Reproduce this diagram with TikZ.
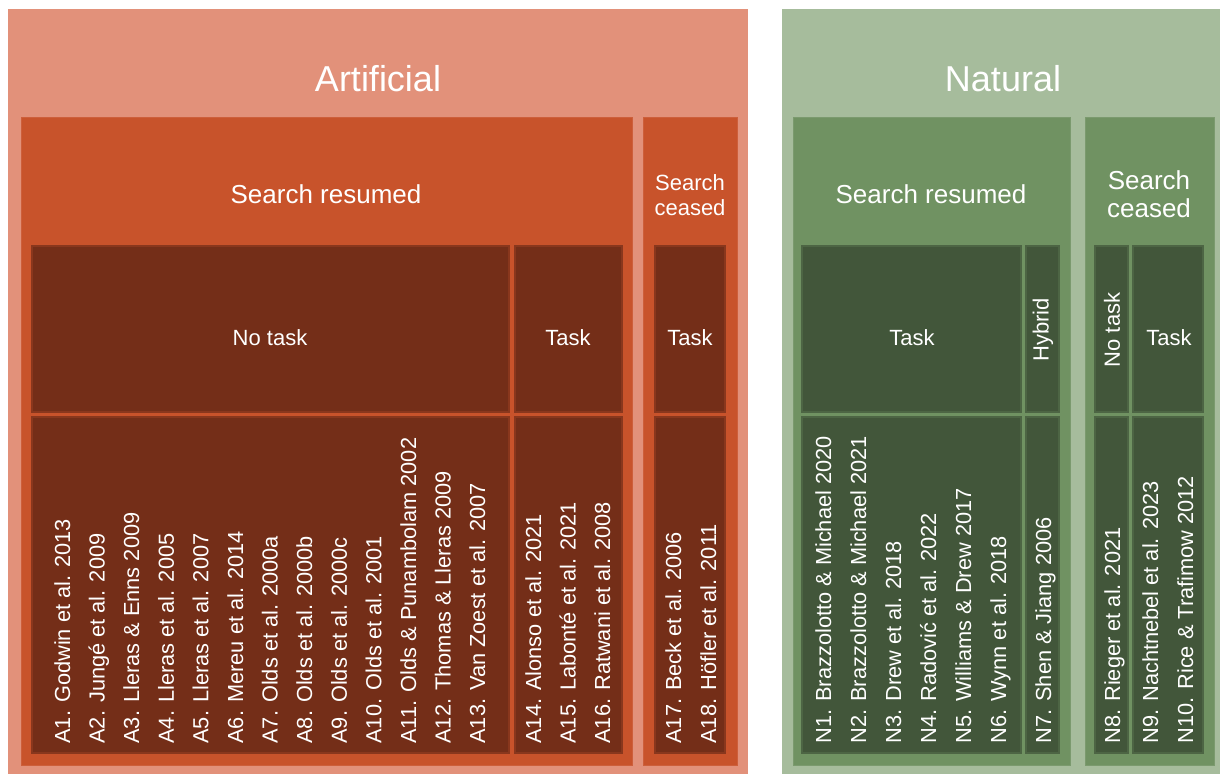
\documentclass[tikz,border=0pt]{standalone}
\usepackage{fontspec}
\setmainfont{Liberation Sans}
\definecolor{artlight}{HTML}{E2917A}
\definecolor{artmid}{HTML}{C8532B}
\definecolor{artdark}{HTML}{742E18}
\definecolor{natlight}{HTML}{A6BC9C}
\definecolor{natmid}{HTML}{709262}
\definecolor{natdark}{HTML}{42563A}

\begin{document}
\begin{tikzpicture}[x=0.5pt,y=-0.5pt,
    title/.style={text=white,font=\fontsize{18}{21}\selectfont},
    group/.style={text=white,align=center,font=\fontsize{13}{14}\selectfont},
    lbl/.style={text=white,align=center,font=\fontsize{11}{12.5}\selectfont},
    ref/.style={text=white,rotate=90,anchor=base west,inner sep=0pt,font=\fontsize{10.9}{13}\selectfont}]
    \useasboundingbox (0,0) rectangle (1220,774);
    % artificial
    \fill[artlight] (8,9) rectangle (748,774);
    \filldraw[fill=artmid,draw=artmid!80!artlight] (21,117) rectangle (632,765);
    \filldraw[fill=artmid,draw=artmid!80!artlight] (643,117) rectangle (737,765);
    \begin{scope}[fill=artdark,draw=artdark!75!artmid,line width=0.8pt]
      \filldraw (32,246) rectangle (509,412);
      \filldraw (515,246) rectangle (622,412);
      \filldraw (655,246) rectangle (725,412);
      \filldraw (32,417) rectangle (509,753);
      \filldraw (515,417) rectangle (622,753);
      \filldraw (655,417) rectangle (725,753);
    \end{scope}
    \node[title] (art) at (378,79) {Artificial};
    \node[group] (artres) at (326,194) {Search resumed};
    \node[lbl] (artcea) at (690,195) {Search\\ceased};
    \node[lbl] (artnotask) at (270,338) {No task};
    \node[lbl] (arttask) at (568,338) {Task};
    \node[lbl] (artceatask) at (690,338) {Task};
    \foreach \n/\t [count=\k from 0] in {1/Godwin et al. 2013,2/Jungé et al. 2009,3/Lleras \& Enns 2009,
        4/Lleras et al. 2005,5/Lleras et al. 2007,6/Mereu et al. 2014,7/Olds et al. 2000a,
        8/Olds et al. 2000b,9/Olds et al. 2000c,10/Olds et al. 2001,11/Olds \& Punambolam 2002,
        12/Thomas \& Lleras 2009,13/Van Zoest et al. 2007}
      \node[ref] (a\n) at ({70+34.6*\k},744) {A\n. \t};
    \foreach \n/\t [count=\k from 0] in {14/Alonso et al. 2021,15/Labonté et al. 2021,16/Ratwani et al. 2008}
      \node[ref] (a\n) at ({541+34.5*\k},744) {A\n. \t};
    \node[ref] (a17) at (681,744) {A17. Beck et al. 2006};
    \node[ref] (a18) at (716,744) {A18. Höfler et al. 2011};
    % natural
    \fill[natlight] (782,9) rectangle (1220,774);
    \filldraw[fill=natmid,draw=natmid!80!natlight] (793,117) rectangle (1070,765);
    \filldraw[fill=natmid,draw=natmid!80!natlight] (1085,117) rectangle (1214,765);
    \begin{scope}[fill=natdark,draw=natdark!75!natmid,line width=0.8pt]
      \filldraw (802,246) rectangle (1021,412);
      \filldraw (1026,246) rectangle (1059,412);
      \filldraw (1095,246) rectangle (1128,412);
      \filldraw (1133,246) rectangle (1203,412);
      \filldraw (802,417) rectangle (1021,753);
      \filldraw (1026,417) rectangle (1059,753);
      \filldraw (1095,417) rectangle (1128,753);
      \filldraw (1133,417) rectangle (1203,753);
    \end{scope}
    \node[title] (nat) at (1003,79) {Natural};
    \node[group] (natres) at (931,194) {Search resumed};
    \node[group] (natcea) at (1149,194) {Search\\ceased};
    \node[lbl] (nattask) at (912,338) {Task};
    \node[lbl,rotate=90] (nathyb) at (1043,330) {Hybrid};
    \node[lbl,rotate=90] (natnotask) at (1112,330) {No task};
    \node[lbl] (natceatask) at (1169,338) {Task};
    \foreach \n/\t [count=\k from 0] in {1/Brazzolotto \& Michael 2020,2/Brazzolotto \& Michael 2021,
        3/Drew et al. 2018,4/Radović et al. 2022,5/Williams \& Drew 2017,6/Wynn et al. 2018}
      \node[ref] (n\n) at ({831+35*\k},744) {N\n. \t};
    \node[ref] (n7) at (1051,744) {N7. Shen \& Jiang 2006};
    \node[ref] (n8) at (1120,744) {N8. Rieger et al. 2021};
    \node[ref] (n9) at (1158,744) {N9. Nachtnebel et al. 2023};
    \node[ref] (n10) at (1193,744) {N10. Rice \& Trafimow 2012};
  \end{tikzpicture}
\end{document}
